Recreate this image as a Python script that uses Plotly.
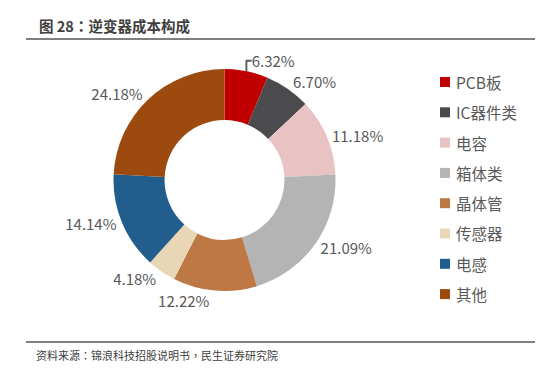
import plotly.graph_objects as go

categories = ["PCB板", "IC器件类", "电容", "箱体类", "晶体管", "传感器", "电感", "其他"]
values = [6.32, 6.70, 11.18, 21.09, 12.22, 4.18, 14.14, 24.18]
colors = ["#C00000", "#4B4B4D", "#E9C3C3", "#B4B4B4", "#BE7844", "#E9D6B6", "#235D8E", "#9C4A0D"]

title_text = "图 28：逆变器成本构成"
source_text = "资料来源：锦浪科技招股说明书，民生证券研究院"

W, H = 549, 373
FONT = "Noto Sans CJK SC"


def punct(s):
    # centered full-width punctuation, as in the reference
    for ch in "：，":
        s = s.replace(ch, '<span style="font-family:Noto Sans CJK TC">' + ch + '</span>')
    return s


fig = go.Figure()
fig.add_trace(go.Pie(
    labels=categories,
    values=values,
    marker=dict(colors=colors, line=dict(width=0)),
    hole=0.54,
    sort=False,
    direction="clockwise",
    rotation=0,
    textposition="outside",
    texttemplate="%{value:.2f}%",
    textfont=dict(family=FONT, size=15, color="#595959"),
    showlegend=False,
    domain=dict(x=[105 / W, 328 / W], y=[1 - 283 / H, 1 - 61 / H]),
    hoverinfo="label+value",
))

shapes = []
annotations = []

def px(x):
    return x / W

def py(y):
    return 1 - y / H

# title and rules
annotations.append(dict(x=px(29), y=py(17), xref="paper", yref="paper", text="<b>" + punct(title_text) + "</b>",
                        showarrow=False, xanchor="left", yanchor="middle",
                        font=dict(family=FONT, size=14.5, color="#404040")))
for yy, c in [(31, "#555555"), (334, "#555555"), (369, "#777777")]:
    shapes.append(dict(type="line", xref="paper", yref="paper", x0=px(18), x1=px(527), y0=py(yy), y1=py(yy),
                       line=dict(color=c, width=1.6)))
annotations.append(dict(x=px(26), y=py(347), xref="paper", yref="paper", text=punct(source_text),
                        showarrow=False, xanchor="left", yanchor="middle",
                        font=dict(family=FONT, size=11, color="#404040")))

# legend
for i, (cat, col) in enumerate(zip(categories, colors)):
    cy = 74 + i * 30.3
    shapes.append(dict(type="rect", xref="paper", yref="paper", x0=px(432), x1=px(442), y0=py(cy - 5), y1=py(cy + 5),
                       fillcolor=col, line=dict(width=0)))
    annotations.append(dict(x=px(446), y=py(cy), xref="paper", yref="paper", text=cat,
                            showarrow=False, xanchor="left", yanchor="middle",
                            font=dict(family=FONT, size=15.5, color="#595959")))

fig.update_layout(
    width=W, height=H,
    margin=dict(l=0, r=0, t=0, b=0),
    paper_bgcolor="white", plot_bgcolor="white",
    shapes=shapes, annotations=annotations,
)

fig.write_html("out.html")
